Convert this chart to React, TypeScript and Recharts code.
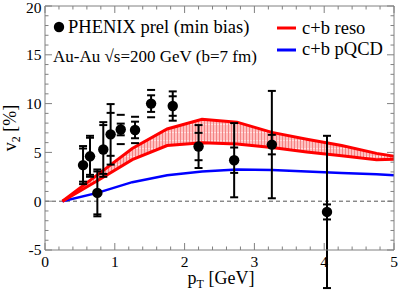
import React from 'react';
import { ComposedChart, Area, Line, Scatter, ErrorBar, XAxis, YAxis, ReferenceLine } from 'recharts';

// theory curves (pT in GeV, v2 in %)
const theoryPt = [0.25, 0.75, 1.25, 1.75, 2.25, 2.75, 3.25, 3.75, 4.25, 4.75, 5.0];
const resoUpper = [0, 2.7, 5.4, 7.4, 8.4, 8.1, 7.05, 6.35, 5.7, 4.9, 4.6];
const resoLower = [0, 2.1, 4.25, 5.7, 6.0, 5.85, 5.5, 5.05, 4.65, 4.25, 4.3];
const pqcd = [0, 0.85, 1.95, 2.65, 3.05, 3.25, 3.2, 3.05, 2.9, 2.75, 2.65];

// PHENIX preliminary data
const dataPt = [0.545, 0.645, 0.75, 0.835, 0.94, 1.085, 1.29, 1.52, 1.83, 2.2, 2.71, 3.25, 4.04];
const dataV2 = [3.7, 4.6, 0.85, 5.3, 6.85, 7.35, 7.3, 10.0, 9.75, 5.6, 4.2, 5.8, -1.1];
const statErr = [1.95, 2.1, 2.4, 2.8, 3.1, 0.6, 0.85, 0.85, 1.5, 2.2, 3.8, 5.5, 7.8];
const sysErr = [1.7, 1.9, 2.2, 2.5, 2.2, 1.5, 1.35, 1.4, 1.0, 1.4, 1.3, 1.0, 0.77];

// axis ticks
const xTicks = [0, 0.2, 0.4, 0.6, 0.8, 1, 1.2, 1.4, 1.6, 1.8, 2, 2.2, 2.4, 2.6, 2.8, 3, 3.2, 3.4, 3.6, 3.8, 4, 4.2, 4.4, 4.6, 4.8, 5];
const yTicks = [-5, -4, -3, -2, -1, 0, 1, 2, 3, 4, 5, 6, 7, 8, 9, 10, 11, 12, 13, 14, 15, 16, 17, 18, 19, 20];

const theory = theoryPt.map((x, i) => ({ x, lo: resoLower[i], hi: resoUpper[i], band: [resoLower[i], resoUpper[i]], pq: pqcd[i] }));
const points = dataPt.map((x, i) => ({ x, y: dataV2[i], stat: statErr[i] }));
const sysHi = dataPt.map((x, i) => ({ x, y: dataV2[i] + sysErr[i] }));
const sysLo = dataPt.map((x, i) => ({ x, y: dataV2[i] - sysErr[i] }));

const FONT = '"Liberation Serif", "Times New Roman", serif';
const FRAME = '#808080';
const MAJ = 7;
const MIN = 3.5;
const TICK_FS = 15.5;

const isIntX = (v: number) => Math.abs(v - Math.round(v)) < 1e-6;
const isMajY = (v: number) => Math.abs(v % 5) < 1e-6;

const BottomTick = (p: any) => {
  const v = p.payload.value;
  const major = isIntX(v);
  return (
    <g>
      <line x1={p.x} x2={p.x} y1={p.y} y2={p.y - (major ? MAJ : MIN)} stroke={FRAME} strokeWidth={1} />
      {major && (
        <text x={p.x} y={p.y + 17} textAnchor="middle" fontSize={TICK_FS} fontFamily={FONT} fill="#000">{Math.round(v)}</text>
      )}
    </g>
  );
};
const TopTick = (p: any) => {
  const major = isIntX(p.payload.value);
  return <line x1={p.x} x2={p.x} y1={p.y} y2={p.y + (major ? MAJ : MIN)} stroke={FRAME} strokeWidth={1} />;
};
const LeftTick = (p: any) => {
  const v = p.payload.value;
  const major = isMajY(v);
  const shift = v === 20 ? 2 : 0;
  return (
    <g>
      <line x1={p.x} x2={p.x + (major ? MAJ : MIN)} y1={p.y} y2={p.y} stroke={FRAME} strokeWidth={1} />
      {major && (
        <text x={p.x - 3.5} y={p.y + shift} dy="0.35em" textAnchor="end" fontSize={TICK_FS} fontFamily={FONT} fill="#000">{v}</text>
      )}
    </g>
  );
};
const RightTick = (p: any) => {
  const major = isMajY(p.payload.value);
  return <line x1={p.x} x2={p.x - (major ? MAJ : MIN)} y1={p.y} y2={p.y} stroke={FRAME} strokeWidth={1} />;
};

const Dot = (p: any) => <circle cx={p.cx} cy={p.cy} r={5.2} fill="#000" />;
const Dash = (p: any) => <line x1={p.cx - 4} x2={p.cx + 4} y1={p.cy} y2={p.cy} stroke="#000" strokeWidth={2} />;

export default function App() {
  return (
    <div style={{ position: 'absolute', left: 0, top: 0, width: 399, height: 292, background: '#fff' }}>
      <ComposedChart width={399} height={292} data={theory} margin={{ top: 0, right: 0, bottom: 0, left: 0 }}>
        <defs>
          <pattern id="hatch" width="3" height="8" patternUnits="userSpaceOnUse">
            <rect width="3" height="8" fill="#ffc0c0" />
            <line x1="0.5" y1="0" x2="0.5" y2="8" stroke="#f27a7a" strokeWidth="0.9" />
            <rect x="1.5" y="4" width="1" height="1" fill="#ffffff" />
          </pattern>
        </defs>
        <XAxis xAxisId="b" dataKey="x" type="number" domain={[0, 5]} ticks={xTicks} interval={0} allowDataOverflow
          height={42} tickSize={0} tickMargin={0} tickLine={false} axisLine={{ stroke: FRAME }} tick={BottomTick} />
        <XAxis xAxisId="t" orientation="top" dataKey="x" type="number" domain={[0, 5]} ticks={xTicks} interval={0} allowDataOverflow
          height={6} tickSize={0} tickMargin={0} tickLine={false} axisLine={{ stroke: FRAME }} tick={TopTick} />
        <YAxis yAxisId="l" type="number" domain={[-5, 20]} ticks={yTicks} interval={0} allowDataOverflow
          width={45} tickSize={0} tickMargin={0} tickLine={false} axisLine={{ stroke: FRAME }} tick={LeftTick} />
        <YAxis yAxisId="r" orientation="right" type="number" domain={[-5, 20]} ticks={yTicks} interval={0} allowDataOverflow
          width={5} tickSize={0} tickMargin={0} tickLine={false} axisLine={{ stroke: FRAME }} tick={RightTick} />
        <ReferenceLine xAxisId="b" yAxisId="l" y={0} stroke="#555" strokeDasharray="4 3" strokeWidth={1} />
        <Area xAxisId="b" yAxisId="l" type="linear" dataKey="band" stroke="none" fill="url(#hatch)" fillOpacity={1} isAnimationActive={false} />
        <Line xAxisId="b" yAxisId="l" type="linear" dataKey="pq" stroke="#0000ff" strokeWidth={2.5} dot={false} isAnimationActive={false} />
        <Line xAxisId="b" yAxisId="l" type="linear" dataKey="hi" stroke="#ff0000" strokeWidth={3} dot={false} isAnimationActive={false} />
        <Line xAxisId="b" yAxisId="l" type="linear" dataKey="lo" stroke="#ff0000" strokeWidth={3} dot={false} isAnimationActive={false} />
        <Scatter xAxisId="b" yAxisId="l" data={sysHi} dataKey="y" shape={Dash} isAnimationActive={false} />
        <Scatter xAxisId="b" yAxisId="l" data={sysLo} dataKey="y" shape={Dash} isAnimationActive={false} />
        <Scatter xAxisId="b" yAxisId="l" data={points} dataKey="y" shape={Dot} isAnimationActive={false}>
          <ErrorBar dataKey="stat" direction="y" width={4} stroke="#000" strokeWidth={2} />
        </Scatter>
      </ComposedChart>
      <svg width={399} height={292} style={{ position: 'absolute', left: 0, top: 0, pointerEvents: 'none' }}>
        <g fontFamily={FONT} fill="#000">
          <circle cx={59} cy={27} r={5.2} fill="#000" />
          <text x={68} y={33} fontSize={18.5}>PHENIX prel (min bias)</text>
          <text x={53} y={62} fontSize={17}>Au-Au √s=200 GeV (b=7 fm)</text>
          <line x1={277} x2={296} y1={28} y2={28} stroke="#ff0000" strokeWidth={3} />
          <text x={302} y={34} fontSize={18.5}>c+b reso</text>
          <line x1={277} x2={296} y1={50} y2={50} stroke="#0000ff" strokeWidth={3} />
          <text x={302} y={55} fontSize={18.5}>c+b pQCD</text>
          <text transform="translate(16,128) rotate(-90)" textAnchor="middle" fontSize={18}>
            v<tspan fontSize={12} dy={4}>2</tspan><tspan dy={-4}> [%]</tspan>
          </text>
          <text x={221} y={284} textAnchor="middle" fontSize={18}>
            p<tspan fontSize={12} dy={4}>T</tspan><tspan dy={-4}> [GeV]</tspan>
          </text>
        </g>
      </svg>
    </div>
  );
}
